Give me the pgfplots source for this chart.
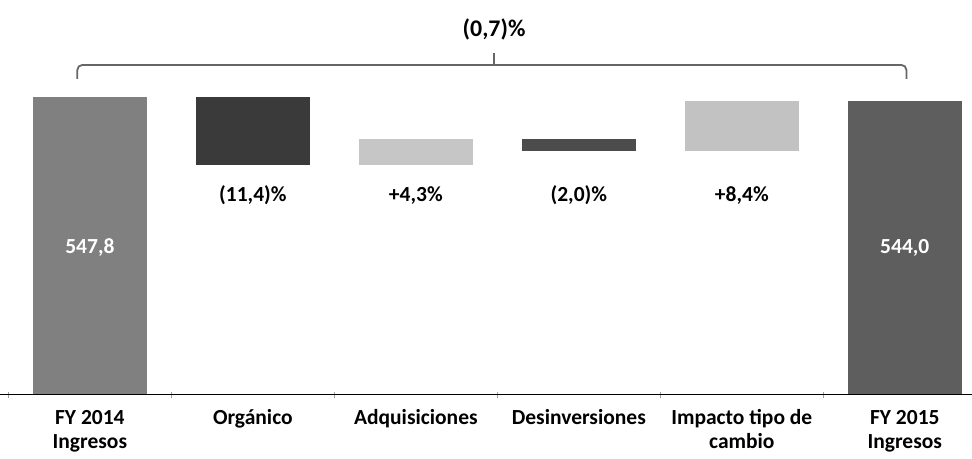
\documentclass[border=0pt]{standalone}
\usepackage{pgfplots}
\pgfplotsset{compat=1.18}
\usepackage{pgfplotstable}
\usepackage{fontspec}
\setmainfont{Carlito}

\definecolor{cFYa}{HTML}{808080}
\definecolor{cFYb}{HTML}{5E5E5E}
\definecolor{cOrg}{HTML}{3A3A3A}
\definecolor{cAdq}{HTML}{C6C6C6}
\definecolor{cDes}{HTML}{4C4C4C}
\definecolor{cImp}{HTML}{C2C2C2}
\definecolor{cBrace}{HTML}{666666}
\definecolor{cAxis}{HTML}{A0A0A0}

\newcommand\lblfont{\fontsize{10.8}{12}\selectfont\bfseries}
\newcommand\topfont{\fontsize{12}{14}\selectfont\bfseries}

% Waterfall: invisible base + one visible segment per category
\pgfplotstableread{
pos base   fya   org   adq   des   imp   fyb
0   0      547.8 0     0     0     0     0
1   485.35 0     62.45 0     0     0     0
2   485.35 0     0     23.56 0     0     0
3   497.95 0     0     0     10.96 0     0
4   497.95 0     0     0     0     46.02 0
5   0      0     0     0     0     0     544.0
}\waterfall

\begin{document}
\begin{tikzpicture}
\begin{axis}[
  scale only axis,
  width=486bp, height=197.5bp,
  xmin=-0.549, xmax=5.41,
  ymin=274, ymax=636.7,
  axis x line*=bottom,
  axis y line=none,
  ybar stacked,
  bar width=0.7,
  xtick={0,1,2,3,4,5},
  xticklabels={{\strut FY 2014\\Ingresos},{\strut Orgánico},{\strut Adquisiciones},{\strut Desinversiones},{\strut Impacto tipo de\\cambio},{\strut FY 2015\\Ingresos}},
  xticklabel style={align=center, font=\lblfont, yshift=-3bp},
  major tick length=0pt,
  minor xtick={-0.5,0.5,1.5,2.5,3.5,4.5},
  minor tick length=3bp,
  tick align=center,
  every axis x line/.append style={cAxis, line width=0.6bp},
  every minor tick/.append style={cAxis, line width=0.5bp},
  axis on top,
]
\addplot[draw=none, fill=white, fill opacity=0] table[x=pos, y=base] {\waterfall};
\addplot[fill=cFYa, draw=none] table[x=pos, y=fya] {\waterfall};
\addplot[fill=cOrg, draw=none] table[x=pos, y=org] {\waterfall};
\addplot[fill=cAdq, draw=none] table[x=pos, y=adq] {\waterfall};
\addplot[fill=cDes, draw=none] table[x=pos, y=des] {\waterfall};
\addplot[fill=cImp, draw=none] table[x=pos, y=imp] {\waterfall};
\addplot[fill=cFYb, draw=none] table[x=pos, y=fyb] {\waterfall};

% anchors for the totals written inside the end bars
\coordinate (tot14) at (axis cs:0,409);
\coordinate (tot15) at (axis cs:5,409);

% change percentages, on a common baseline
\node[font=\lblfont, anchor=base] at (axis cs:1,451.5) {(11,4)\%};
\node[font=\lblfont, anchor=base] at (axis cs:2,451.5) {+4,3\%};
\node[font=\lblfont, anchor=base] at (axis cs:3,451.5) {(2,0)\%};
\node[font=\lblfont, anchor=base] at (axis cs:4,451.5) {+8,4\%};

% overall bracket
\draw[cBrace, line width=0.9bp, rounded corners=2.5bp]
  (axis cs:-0.077,564.2) |- (axis cs:5.01,577) -- (axis cs:5.01,564.2);
\draw[cBrace, line width=0.9bp] (axis cs:2.48,577) -- (axis cs:2.48,588);
\node[font=\topfont] at (axis cs:2.48,609.2) {(0,7)\%};
\end{axis}
\node[text=white, font=\lblfont] at (tot14) {547,8};
\node[text=white, font=\lblfont] at (tot15) {544,0};
% room below for the two-line category names
\path (current axis.south west) ++(0,-30bp) (current axis.north east);
\end{tikzpicture}
\end{document}
